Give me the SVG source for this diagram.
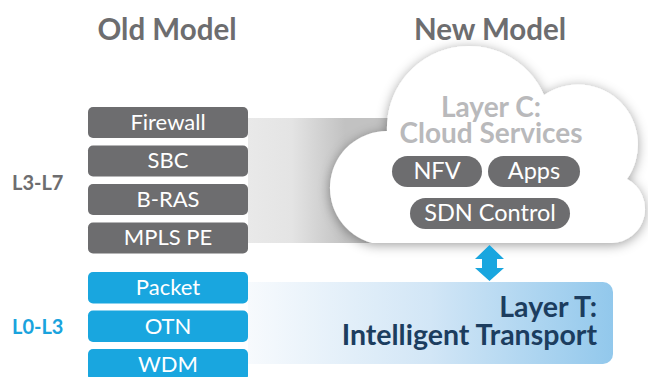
<svg xmlns="http://www.w3.org/2000/svg" width="648" height="377" viewBox="0 0 648 377">
  <defs>
    <style>
      .title { font-family: Lato, "Open Sans", "Liberation Sans", sans-serif; font-weight: 700; font-size: 29.5px; fill: #6d6d6f; text-anchor: middle; }
      .range { font-family: Lato, "Open Sans", "Liberation Sans", sans-serif; font-weight: 700; font-size: 20px; }
      .box-gray { fill: #6d6d6f; }
      .box-blue { fill: #19a6df; }
      .box-text { font-family: Lato, "Open Sans", "Liberation Sans", sans-serif; font-size: 22px; fill: #ffffff; text-anchor: middle; }
      .pill-text { font-family: Lato, "Open Sans", "Liberation Sans", sans-serif; font-size: 23.5px; fill: #ffffff; text-anchor: middle; }
      .cloud-title { font-family: Lato, "Open Sans", "Liberation Sans", sans-serif; font-weight: 700; font-size: 28px; fill: #b9b9bb; text-anchor: middle; }
      .transport-title { font-family: Lato, "Open Sans", "Liberation Sans", sans-serif; font-weight: 700; font-size: 28.5px; fill: #1c3d5f; text-anchor: end; }
    </style>
    <linearGradient id="grayBand" x1="248" y1="0" x2="345" y2="0" gradientUnits="userSpaceOnUse">
      <stop offset="0" stop-color="#e9e9e9"/>
      <stop offset="0.45" stop-color="#e4e4e4"/>
      <stop offset="1" stop-color="#c2c2c2"/>
    </linearGradient>
    <linearGradient id="blueBand" x1="248" y1="0" x2="613" y2="0" gradientUnits="userSpaceOnUse">
      <stop offset="0" stop-color="#f7fafd"/>
      <stop offset="0.5" stop-color="#d2e6f6"/>
      <stop offset="1" stop-color="#92c8ec"/>
    </linearGradient>
    <filter id="cloudShadow" x="-20%" y="-20%" width="140%" height="140%">
      <feGaussianBlur in="SourceAlpha" stdDeviation="6"/>
      <feOffset dx="0" dy="2" result="blur"/>
      <feFlood flood-color="#000000" flood-opacity="0.38"/>
      <feComposite in2="blur" operator="in"/>
      <feMerge>
        <feMergeNode/>
        <feMergeNode in="SourceGraphic"/>
      </feMerge>
    </filter>
  </defs>

  <rect width="648" height="377" fill="#ffffff"/>

  <!-- headings -->
  <text class="title" x="167" y="40">Old Model</text>
  <text class="title" x="490" y="40">New Model</text>

  <!-- background bands linking the old stacks to the new layers -->
  <g id="bands">
    <rect x="248" y="118" width="160" height="125" fill="url(#grayBand)"/>
    <path d="M248 282 H603 A10 10 0 0 1 613 292 V354 A10 10 0 0 1 603 364 H248 Z" fill="url(#blueBand)"/>
  </g>

  <!-- layer ranges -->
  <text class="range" x="12" y="190" fill="#6d6d6f">L3-L7</text>
  <text class="range" x="12" y="334" fill="#1aa3dd">L0-L3</text>

  <!-- old model: service stack -->
  <g id="firewall">
    <rect class="box-gray" x="88" y="107" width="160" height="31" rx="5"/>
    <text class="box-text" x="168" y="129.5">Firewall</text>
  </g>
  <g id="sbc">
    <rect class="box-gray" x="88" y="145.5" width="160" height="31" rx="5"/>
    <text class="box-text" x="168" y="168">SBC</text>
  </g>
  <g id="bras">
    <rect class="box-gray" x="88" y="184" width="160" height="31" rx="5"/>
    <text class="box-text" x="168" y="206.5">B-RAS</text>
  </g>
  <g id="mpls-pe">
    <rect class="box-gray" x="88" y="222.5" width="160" height="31" rx="5"/>
    <text class="box-text" x="168" y="245">MPLS PE</text>
  </g>

  <!-- old model: transport stack -->
  <g id="packet">
    <rect class="box-blue" x="88" y="272" width="160" height="31.5" rx="5"/>
    <text class="box-text" x="168" y="295">Packet</text>
  </g>
  <g id="otn">
    <rect class="box-blue" x="88" y="310.5" width="160" height="31.5" rx="5"/>
    <text class="box-text" x="168" y="333.5">OTN</text>
  </g>
  <g id="wdm">
    <rect class="box-blue" x="88" y="349" width="160" height="31.5" rx="5"/>
    <text class="box-text" x="168" y="372">WDM</text>
  </g>

  <!-- new model: cloud services layer -->
  <g id="layer-c">
    <path filter="url(#cloudShadow)" fill="#ffffff"
          d="M372 243 A57 57 0 0 1 387 131 A82 82 0 0 1 544 95 A60 60 0 0 1 627 179 A34 34 0 0 1 612 243 Z"/>
    <text class="cloud-title" x="491" y="117">Layer C:</text>
    <text class="cloud-title" x="491" y="143">Cloud Services</text>
  </g>
  <g id="nfv">
    <rect class="box-gray" x="392" y="156" width="90" height="31" rx="15.5"/>
    <text class="pill-text" x="437" y="179">NFV</text>
  </g>
  <g id="apps">
    <rect class="box-gray" x="488" y="156" width="92" height="31" rx="15.5"/>
    <text class="pill-text" x="534" y="179">Apps</text>
  </g>
  <g id="sdn-control">
    <rect class="box-gray" x="410" y="198" width="160" height="31" rx="15.5"/>
    <text class="pill-text" x="490" y="221">SDN Control</text>
  </g>

  <!-- new model: transport layer -->
  <g id="layer-t">
    <text class="transport-title" x="597" y="317">Layer T:</text>
    <text class="transport-title" x="597" y="345">Intelligent Transport</text>
  </g>

  <!-- connectors -->
  <g id="connectors">
    <path fill="#19a6df" d="M489.5 245 L504 259 H497 V268 H504 L489.5 281 L475 268 H482 V259 H475 Z"/>
  </g>
</svg>
